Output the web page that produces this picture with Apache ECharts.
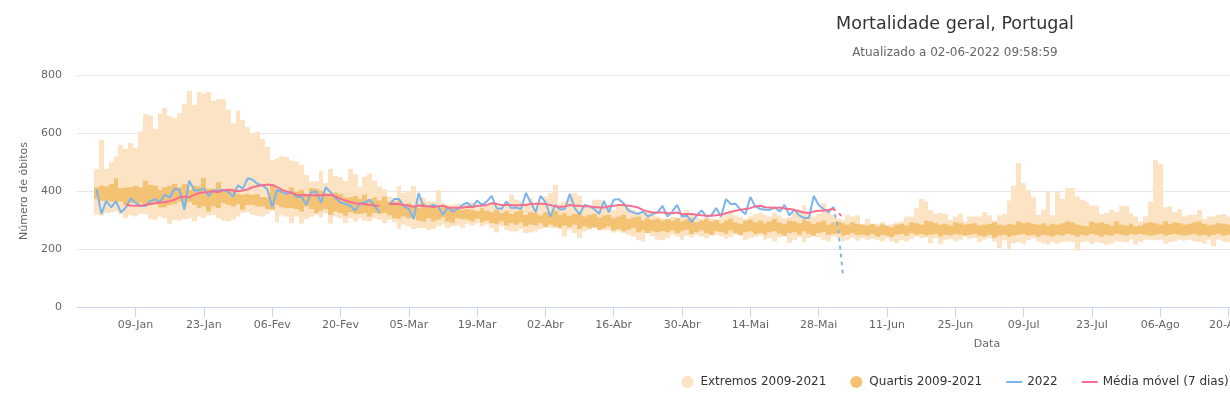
<!DOCTYPE html>
<html>
<head>
<meta charset="utf-8">
<title>Mortalidade geral, Portugal</title>
<script src="https://cdn.jsdelivr.net/npm/echarts@6/dist/echarts.min.js"></script>
<style>
  html, body { margin: 0; padding: 0; overflow: hidden; background: #fff; }
  #chart { width: 1910px; height: 398px; }
</style>
</head>
<body>
<div id="chart"></div>
<script>
// day index 0 = 01-Jan, on a 366-day template (index 59 = 29-Fev)
var tickDays = [8, 22, 36, 50, 64, 78, 92, 106, 120, 134, 148, 162, 176, 190, 204, 218, 232,
  246, 260, 274, 288, 302, 316, 330, 344, 358];
var tickLabels = ['09-Jan', '23-Jan', '06-Fev', '20-Fev', '05-Mar', '19-Mar', '02-Abr', '16-Abr',
  '30-Abr', '14-Mai', '28-Mai', '11-Jun', '25-Jun', '09-Jul', '23-Jul', '06-Ago', '20-Ago',
  '03-Set', '17-Set', '01-Out', '15-Out', '29-Out', '12-Nov', '26-Nov', '10-Dez', '24-Dez'];

// Extremos 2009-2021 (max / min)
var extHigh = [
  475, 576, 476, 499, 519, 559, 545, 565, 549, 605,
  665, 660, 613, 667, 686, 659, 651, 668, 701, 745,
  697, 743, 736, 742, 711, 717, 716, 681, 633, 677,
  645, 620, 599, 604, 580, 553, 507, 513, 521, 517,
  505, 502, 490, 456, 433, 433, 470, 427, 476, 452,
  448, 435, 476, 458, 413, 448, 461, 436, 416, 406,
  381, 370, 417, 393, 398, 417, 375, 377, 364, 364,
  404, 358, 352, 352, 355, 352, 358, 361, 347, 358,
  352, 355, 347, 352, 360, 387, 370, 364, 358, 375,
  358, 364, 381, 393, 421, 358, 364, 381, 393, 384,
  349, 347, 370, 370, 358, 352, 335, 347, 352, 341,
  335, 329, 324, 329, 318, 312, 306, 304, 310, 306,
  318, 335, 318, 312, 304, 310, 306, 300, 312, 318,
  335, 316, 310, 304, 312, 320, 324, 318, 312, 324,
  316, 306, 310, 324, 330, 352, 324, 312, 320, 358,
  330, 318, 306, 300, 318, 312, 316, 286, 304, 281,
  287, 293, 274, 286, 291, 295, 312, 312, 341, 373,
  364, 335, 321, 324, 321, 301, 312, 321, 295, 312,
  312, 312, 327, 316, 298, 316, 321, 367, 418, 496,
  427, 404, 378, 318, 337, 401, 316, 396, 373, 410,
  410, 381, 370, 362, 350, 350, 320, 324, 335, 327,
  349, 347, 324, 312, 295, 312, 362, 507, 494, 344,
  347, 327, 337, 312, 318, 318, 335, 304, 312, 312,
  318, 321, 312, 310, 315, 312
];
var extLow = [
  318, 315, 324, 326, 329, 321, 306, 316, 312, 321,
  321, 303, 301, 312, 306, 287, 301, 298, 303, 306,
  295, 312, 306, 315, 318, 306, 298, 295, 301, 312,
  324, 326, 318, 315, 312, 321, 333, 292, 316, 312,
  289, 312, 287, 304, 312, 318, 309, 324, 287, 312,
  306, 289, 306, 295, 306, 298, 295, 306, 301, 289,
  301, 292, 269, 284, 278, 269, 272, 272, 266, 269,
  278, 284, 272, 278, 281, 272, 287, 281, 289, 278,
  284, 272, 257, 278, 266, 261, 261, 269, 255, 257,
  261, 269, 278, 272, 272, 269, 243, 266, 255, 238,
  261, 266, 272, 269, 264, 266, 257, 261, 255, 249,
  243, 230, 226, 255, 243, 232, 230, 238, 249, 243,
  232, 246, 240, 249, 243, 238, 246, 249, 243, 235,
  240, 249, 246, 232, 238, 243, 246, 232, 238, 226,
  240, 243, 221, 232, 240, 224, 238, 243, 240, 232,
  226, 243, 238, 226, 232, 238, 229, 238, 232, 235,
  232, 226, 238, 226, 220, 230, 226, 235, 243, 238,
  240, 220, 238, 218, 232, 235, 226, 232, 243, 235,
  238, 224, 232, 238, 226, 203, 230, 197, 220, 224,
  218, 230, 238, 226, 220, 215, 224, 218, 224, 226,
  224, 195, 224, 226, 218, 224, 220, 215, 218, 226,
  226, 224, 232, 215, 224, 232, 232, 230, 232, 218,
  224, 226, 232, 229, 232, 226, 224, 218, 232, 209,
  232, 226, 224, 230, 226, 224
];

// Quartis 2009-2021 (Q3 / Q1)
var quartUpper = [
  413, 418, 416, 424, 444, 410, 412, 413, 418, 413,
  435, 421, 418, 404, 413, 418, 425, 413, 424, 404,
  418, 416, 444, 408, 408, 430, 398, 404, 408, 390,
  387, 390, 387, 389, 379, 378, 424, 406, 404, 398,
  413, 398, 404, 390, 410, 408, 401, 390, 383, 395,
  390, 378, 378, 383, 373, 387, 370, 378, 367, 381,
  364, 361, 367, 352, 358, 349, 343, 358, 347, 349,
  343, 352, 344, 341, 338, 335, 338, 335, 330, 341,
  332, 327, 335, 324, 330, 321, 329, 333, 318, 327,
  324, 316, 327, 321, 332, 318, 324, 315, 321, 327,
  312, 318, 321, 309, 315, 318, 306, 312, 318, 304,
  309, 312, 298, 306, 301, 304, 298, 304, 298, 306,
  295, 301, 306, 292, 298, 304, 295, 301, 289, 298,
  304, 292, 287, 298, 301, 292, 298, 289, 295, 304,
  292, 287, 298, 295, 289, 301, 295, 287, 292, 298,
  284, 292, 295, 289, 284, 292, 287, 284, 281, 287,
  278, 284, 281, 275, 284, 287, 281, 292, 289, 284,
  298, 295, 289, 284, 287, 281, 292, 289, 284, 287,
  289, 281, 284, 287, 292, 284, 281, 287, 284, 295,
  289, 292, 287, 284, 289, 281, 287, 284, 289, 295,
  292, 284, 281, 278, 295, 289, 292, 287, 281, 295,
  284, 281, 287, 278, 281, 289, 292, 289, 284, 295,
  287, 292, 289, 284, 287, 292, 295, 287, 281, 284,
  289, 287, 284, 289, 287, 284
];
var quartLower = [
  372, 366, 367, 364, 362, 364, 352, 358, 360, 358,
  347, 352, 355, 343, 344, 352, 355, 364, 350, 362,
  352, 341, 347, 329, 347, 341, 358, 352, 347, 355,
  335, 352, 352, 347, 347, 338, 335, 352, 344, 341,
  341, 338, 329, 347, 338, 324, 332, 338, 318, 329,
  324, 315, 327, 321, 321, 324, 312, 324, 321, 324,
  316, 306, 303, 312, 306, 309, 298, 295, 306, 295,
  301, 309, 295, 289, 306, 303, 301, 295, 304, 292,
  298, 289, 287, 295, 281, 289, 284, 292, 278, 284,
  281, 289, 275, 284, 278, 272, 281, 275, 284, 269,
  278, 272, 275, 266, 272, 278, 264, 269, 261, 266,
  272, 258, 264, 255, 261, 258, 262, 258, 264, 255,
  261, 266, 252, 258, 264, 255, 249, 261, 258, 252,
  264, 255, 249, 258, 261, 252, 255, 249, 258, 262,
  252, 246, 255, 258, 249, 261, 252, 246, 255, 258,
  249, 252, 255, 246, 249, 255, 249, 249, 246, 252,
  243, 249, 246, 241, 249, 252, 246, 255, 249, 252,
  246, 249, 252, 243, 249, 246, 252, 249, 246, 249,
  252, 246, 243, 249, 238, 246, 249, 241, 246, 249,
  252, 246, 249, 243, 249, 246, 243, 249, 246, 252,
  249, 243, 249, 246, 252, 249, 243, 249, 246, 252,
  249, 246, 252, 249, 252, 249, 246, 249, 252, 246,
  249, 252, 249, 246, 249, 252, 246, 249, 243, 249,
  252, 246, 249, 252, 249, 246
];

// 2022 (null = 29-Fev); the last points are provisional
var deaths2022 = [
  406, 321, 366, 344, 364, 326, 343, 374, 360, 349,
  348, 366, 371, 362, 388, 377, 408, 404, 335, 436,
  402, 402, 408, 383, 402, 402, 404, 397, 381, 420,
  408, 444, 439, 424, 420, 406, 345, 404, 396, 390,
  396, 379, 381, 352, 396, 398, 360, 413, 395, 375,
  360, 356, 349, 332, 358, 360, 370, 347, 326, null,
  352, 372, 372, 347, 338, 303, 393, 347, 347, 352,
  347, 318, 344, 329, 338, 352, 360, 344, 367, 352,
  364, 383, 341, 338, 364, 341, 343, 338, 393, 360,
  327, 383, 362, 312, 352, 336, 338, 390, 341, 320,
  352, 347, 338, 321, 366, 326, 370, 372, 358, 333,
  326, 321, 329, 312, 321, 326, 349, 312, 329, 352,
  312, 315, 293, 316, 333, 312, 316, 341, 312, 372,
  355, 356, 335, 320, 379, 347, 338, 335, 335, 344,
  329, 352, 316, 335, 316, 307, 307, 383, 352, 338,
  327, 344, 272, 107
];
// Média móvel (7 dias)
var movingAvg = [
  null, null, null, null, null, null, 352, 350, 349, 349,
  352, 355, 358, 360, 362, 365, 370, 378, 381, 378,
  387, 393, 395, 397, 399, 396, 402, 404, 402, 399,
  402, 406, 413, 417, 420, 422, 421, 413, 404, 398,
  393, 387, 385, 386, 385, 385, 385, 387, 386, 381,
  373, 367, 362, 358, 356, 355, 352, 350, 349, null,
  355, 356, 355, 352, 349, 346, 350, 349, 347, 345,
  347, 349, 343, 342, 342, 342, 346, 344, 349, 350,
  352, 358, 355, 352, 352, 352, 350, 352, 352, 355,
  356, 356, 355, 352, 347, 345, 347, 352, 349, 349,
  347, 347, 345, 343, 343, 347, 349, 352, 352, 349,
  347, 343, 335, 329, 326, 326, 326, 324, 323, 326,
  320, 321, 321, 318, 316, 315, 315, 316, 318, 323,
  328, 332, 335, 338, 341, 347, 349, 344, 343, 341,
  343, 340, 338, 335, 330, 326, 324, 329, 332, 333,
  335, 338, 327, 306
];
var provisionalFrom = 151;

function rangeData(lo, hi) {
  return lo.map(function (v, i) { return [i, v, hi[i]]; });
}
function lineData(vals, from, to) {
  var out = [];
  for (var i = from; i <= to; i++) out.push([i, vals[i]]);
  return out;
}
function drawRange(params, api) {
  var x = api.value(0);
  var a = api.coord([x - 0.5, api.value(2)]);
  var b = api.coord([x + 0.5, api.value(1)]);
  var x0 = Math.round(a[0]), x1 = Math.round(b[0]);
  return {
    type: 'rect',
    shape: { x: x0, y: a[1], width: x1 - x0, height: b[1] - a[1] },
    style: { fill: api.visual('color') }
  };
}

var lastDay = deaths2022.length - 1;
var lineIcon = 'path://M0,0H16V2H0Z';
var font = 'DejaVu Sans';

var option = {
  animation: false,
  textStyle: { fontFamily: font },
  title: {
    text: 'Mortalidade geral, Portugal',
    subtext: 'Atualizado a 02-06-2022 09:58:59',
    left: 'center',
    top: 10,
    itemGap: 14,
    textStyle: { fontFamily: font, fontSize: 17.5, fontWeight: 'normal', color: '#333333' },
    subtextStyle: { fontFamily: font, fontSize: 12, color: '#666666' }
  },
  legend: {
    left: 'center',
    top: 371,
    itemWidth: 16,
    itemHeight: 12,
    itemGap: 24,
    textStyle: { fontFamily: font, fontSize: 12, color: '#333333' },
    data: [
      { name: 'Extremos 2009-2021', icon: 'circle' },
      { name: 'Quartis 2009-2021', icon: 'circle' },
      { name: '2022', icon: lineIcon },
      { name: 'Média móvel (7 dias)', icon: lineIcon }
    ]
  },
  grid: { left: 77, right: 13, top: 75, bottom: 91 },
  xAxis: {
    type: 'value',
    min: -4,
    max: 369,
    name: 'Data',
    nameLocation: 'middle',
    nameGap: 32,
    nameTextStyle: { fontFamily: font, fontSize: 11, color: '#666666' },
    splitLine: { show: false },
    axisLine: { onZero: false, lineStyle: { color: '#ccd6eb', width: 1 } },
    axisTick: { show: true, customValues: tickDays, length: 10, lineStyle: { color: '#ccd6eb' } },
    axisLabel: {
      customValues: tickDays,
      margin: 13,
      fontFamily: font,
      fontSize: 11,
      color: '#666666',
      formatter: function (v) {
        var k = tickDays.indexOf(Math.round(v));
        return k >= 0 ? tickLabels[k] : '';
      }
    }
  },
  yAxis: {
    type: 'value',
    min: 0,
    max: 800,
    interval: 200,
    name: 'Número de óbitos',
    nameLocation: 'middle',
    nameGap: 47,
    nameTextStyle: { fontFamily: font, fontSize: 11, color: '#666666' },
    axisLine: { show: false },
    axisTick: { show: false },
    axisLabel: { margin: 15, fontFamily: font, fontSize: 11, color: '#666666' },
    splitLine: { lineStyle: { color: '#e6e6e6', width: 1 } }
  },
  series: [
    {
      name: 'Extremos 2009-2021',
      type: 'custom',
      renderItem: drawRange,
      itemStyle: { color: '#fbe3c3' },
      encode: { x: 0, y: [1, 2] },
      data: rangeData(extLow, extHigh),
      z: 1
    },
    {
      name: 'Quartis 2009-2021',
      type: 'custom',
      renderItem: drawRange,
      itemStyle: { color: '#f4c273' },
      encode: { x: 0, y: [1, 2] },
      data: rangeData(quartLower, quartUpper),
      z: 2
    },
    {
      name: '2022',
      type: 'line',
      color: '#7cb5ec',
      showSymbol: false,
      lineStyle: { width: 2, color: '#7cb5ec' },
      data: lineData(deaths2022, 0, provisionalFrom),
      z: 3
    },
    {
      name: '2022',
      type: 'line',
      color: '#7cb5ec',
      showSymbol: false,
      lineStyle: { width: 2, color: '#7cb5ec', type: [2, 6], cap: 'round' },
      data: lineData(deaths2022, provisionalFrom, lastDay),
      z: 3
    },
    {
      name: 'Média móvel (7 dias)',
      type: 'line',
      color: '#f56f90',
      showSymbol: false,
      lineStyle: { width: 2, color: '#f56f90' },
      data: lineData(movingAvg, 6, provisionalFrom),
      z: 4
    },
    {
      name: 'Média móvel (7 dias)',
      type: 'line',
      color: '#f56f90',
      showSymbol: false,
      lineStyle: { width: 2, color: '#f56f90', type: [2, 6], cap: 'round' },
      data: lineData(movingAvg, provisionalFrom, lastDay),
      z: 4
    }
  ]
};

var chart = echarts.init(document.getElementById('chart'));
chart.setOption(option);
</script>
</body>
</html>
